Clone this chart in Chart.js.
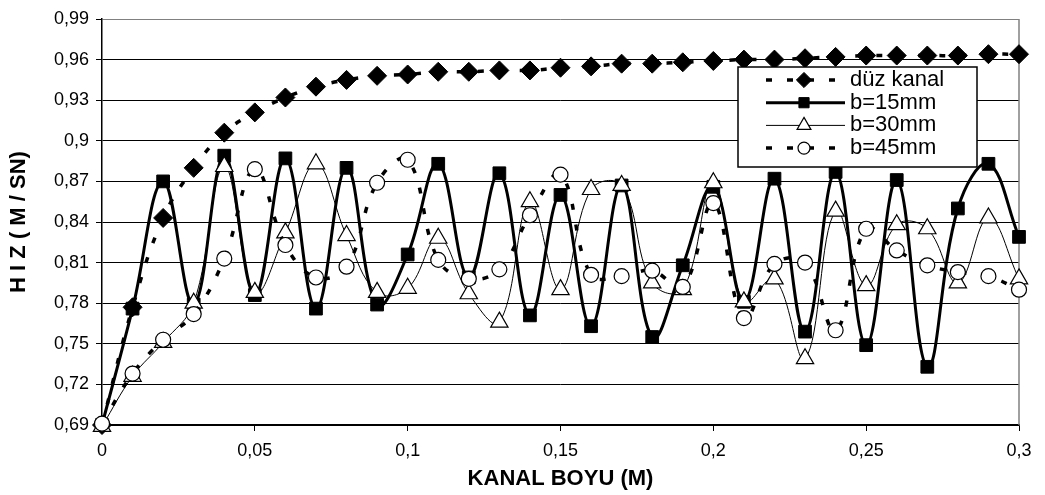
<!DOCTYPE html>
<html>
<head>
<meta charset="utf-8">
<script src="https://cdn.jsdelivr.net/npm/chart.js@4"></script>
<style>
  body { margin: 0; background: #fff; }
  #wrap { width: 1045px; height: 495px; }
</style>
</head>
<body>
<div id="wrap"><canvas id="hizChart" width="1045" height="495"></canvas></div>
<script>
// x positions along the channel (m)
const kanalBoyu = [0, 0.01, 0.02, 0.03, 0.04, 0.05, 0.06, 0.07, 0.08, 0.09, 0.1,
  0.11, 0.12, 0.13, 0.14, 0.15, 0.16, 0.17, 0.18, 0.19, 0.2,
  0.21, 0.22, 0.23, 0.24, 0.25, 0.26, 0.27, 0.28, 0.29, 0.3];

// velocities (m/s)
const duzKanal = [0.690, 0.777, 0.843, 0.880, 0.906, 0.921, 0.932, 0.940, 0.945, 0.948, 0.949,
  0.951, 0.951, 0.952, 0.952, 0.954, 0.955, 0.957, 0.957, 0.958, 0.959,
  0.960, 0.960, 0.961, 0.962, 0.963, 0.963, 0.963, 0.963, 0.964, 0.964];
const b15 = [0.690, 0.776, 0.870, 0.779, 0.889, 0.786, 0.887, 0.776, 0.880, 0.779, 0.816,
  0.883, 0.799, 0.876, 0.771, 0.860, 0.763, 0.867, 0.755, 0.808, 0.866,
  0.781, 0.872, 0.759, 0.877, 0.749, 0.871, 0.733, 0.850, 0.883, 0.829];
const b30 = [0.689, 0.726, 0.751, 0.780, 0.881, 0.788, 0.832, 0.883, 0.830, 0.788, 0.791,
  0.828, 0.787, 0.766, 0.855, 0.790, 0.864, 0.867, 0.795, 0.790, 0.869,
  0.781, 0.798, 0.739, 0.848, 0.793, 0.838, 0.835, 0.795, 0.843, 0.798];
const b45 = [0.691, 0.728, 0.753, 0.772, 0.813, 0.879, 0.823, 0.799, 0.807, 0.869, 0.886,
  0.812, 0.798, 0.805, 0.845, 0.875, 0.801, 0.800, 0.804, 0.792, 0.854,
  0.769, 0.809, 0.810, 0.760, 0.835, 0.819, 0.808, 0.803, 0.800, 0.790];

const seriesNames = ["düz kanal", "b=15mm", "b=30mm", "b=45mm"];

function toPoints(values) {
  return kanalBoyu.map((x, i) => ({ x: x, y: values[i] }));
}

function commaNum(v) {
  return String(Number(v.toFixed(2))).replace('.', ',');
}

// gray frame on the right side of the plot
const plotFrame = {
  id: 'plotFrame',
  beforeDatasetsDraw(chart) {
    const a = chart.chartArea;
    const ctx = chart.ctx;
    ctx.save();
    ctx.strokeStyle = '#808080';
    ctx.lineWidth = 1.5;
    ctx.beginPath();
    ctx.moveTo(a.right, a.top);
    ctx.lineTo(a.right, a.bottom);
    ctx.stroke();
    ctx.restore();
  }
};

// boxed legend inside the plot, top right
const boxLegend = {
  id: 'boxLegend',
  afterDatasetsDraw(chart) {
    const ctx = chart.ctx;
    const box = { x: 738, y: 67, w: 239, h: 100 };
    ctx.save();
    ctx.fillStyle = '#fff';
    ctx.fillRect(box.x, box.y, box.w, box.h);
    ctx.strokeStyle = '#000';
    ctx.lineWidth = 1.5;
    ctx.strokeRect(box.x, box.y, box.w, box.h);

    chart.data.datasets.forEach((ds, i) => {
      const y = 80 + i * 22.7;
      ctx.strokeStyle = ds.borderColor;
      ctx.lineWidth = ds.borderWidth;
      ctx.setLineDash(ds.borderDash || []);
      ctx.beginPath();
      ctx.moveTo(766, y);
      ctx.lineTo(845, y);
      ctx.stroke();
      ctx.setLineDash([]);

      ctx.fillStyle = ds.pointBackgroundColor;
      ctx.strokeStyle = ds.pointBorderColor;
      ctx.lineWidth = ds.pointBorderWidth;
      Chart.helpers.drawPoint(ctx, {
        pointStyle: ds.pointStyle,
        rotation: 0,
        radius: ds.pointRadius * 0.8,
        borderWidth: ds.pointBorderWidth
      }, 804, y);

      ctx.fillStyle = '#000';
      ctx.font = '22px "Liberation Sans", Arial, sans-serif';
      ctx.textBaseline = 'middle';
      ctx.textAlign = 'left';
      ctx.fillText(ds.label, 850, y);
    });
    ctx.restore();
  }
};

const ctx = document.getElementById('hizChart').getContext('2d');

new Chart(ctx, {
  type: 'scatter',
  data: {
    datasets: [{
      label: seriesNames[0],
      data: toPoints(duzKanal),
      showLine: true,
      tension: 0.4,
      borderColor: '#000',
      borderWidth: 3.5,
      borderDash: [6, 15],
      pointStyle: 'rectRot',
      pointRadius: 9.5,
      pointBackgroundColor: '#000',
      pointBorderColor: '#000',
      pointBorderWidth: 1,
      clip: false,
      order: 4
    }, {
      label: seriesNames[1],
      data: toPoints(b15),
      showLine: true,
      tension: 0.4,
      borderColor: '#000',
      borderWidth: 3,
      pointStyle: 'rect',
      pointRadius: 9,
      pointBackgroundColor: '#000',
      pointBorderColor: '#000',
      pointBorderWidth: 1,
      clip: false,
      order: 3
    }, {
      label: seriesNames[2],
      data: toPoints(b30),
      showLine: true,
      tension: 0.4,
      borderColor: '#000',
      borderWidth: 1,
      pointStyle: 'triangle',
      pointRadius: 10,
      pointBackgroundColor: '#fff',
      pointBorderColor: '#000',
      pointBorderWidth: 1.2,
      clip: false,
      order: 2
    }, {
      label: seriesNames[3],
      data: toPoints(b45),
      showLine: true,
      tension: 0.4,
      borderColor: '#000',
      borderWidth: 3.5,
      borderDash: [6, 15],
      pointStyle: 'circle',
      pointRadius: 7.5,
      pointBackgroundColor: '#fff',
      pointBorderColor: '#000',
      pointBorderWidth: 1.2,
      clip: false,
      order: 1
    }]
  },
  options: {
    responsive: false,
    animation: false,
    layout: {
      padding: { left: 0, top: 19, right: 26, bottom: 0 }
    },
    plugins: {
      legend: { display: false },
      tooltip: { enabled: false }
    },
    scales: {
      x: {
        type: 'linear',
        min: 0,
        max: 0.3,
        afterFit: function (scale) { scale.height = 70; },
        ticks: {
          stepSize: 0.05,
          color: '#000',
          padding: 9,
          font: { family: '"Liberation Sans", Arial, sans-serif', size: 18 },
          callback: v => commaNum(v)
        },
        grid: {
          drawOnChartArea: false,
          drawTicks: true,
          tickLength: 6,
          tickColor: '#000',
          color: '#000'
        },
        border: { color: '#000', width: 1.5 },
        title: {
          display: true,
          text: 'KANAL BOYU (M)',
          color: '#000',
          padding: { top: 0, bottom: 3 },
          font: { family: '"Liberation Sans", Arial, sans-serif', size: 22, weight: 'bold' }
        }
      },
      y: {
        min: 0.69,
        max: 0.99,
        afterFit: function (scale) { scale.width = 102; },
        ticks: {
          stepSize: 0.03,
          color: '#000',
          padding: 7,
          font: { family: '"Liberation Sans", Arial, sans-serif', size: 18 },
          callback: v => commaNum(v)
        },
        grid: {
          color: c => (c.index === 10 ? '#808080' : '#000'),
          lineWidth: 1,
          tickLength: 6,
          tickColor: '#000'
        },
        border: { color: '#000', width: 1.5 },
        title: {
          display: true,
          text: 'H I Z ( M / SN)',
          color: '#000',
          padding: { top: 6, bottom: 0 },
          font: { family: '"Liberation Sans", Arial, sans-serif', size: 22, weight: 'bold' }
        }
      }
    }
  },
  plugins: [plotFrame, boxLegend]
});
</script>
</body>
</html>
